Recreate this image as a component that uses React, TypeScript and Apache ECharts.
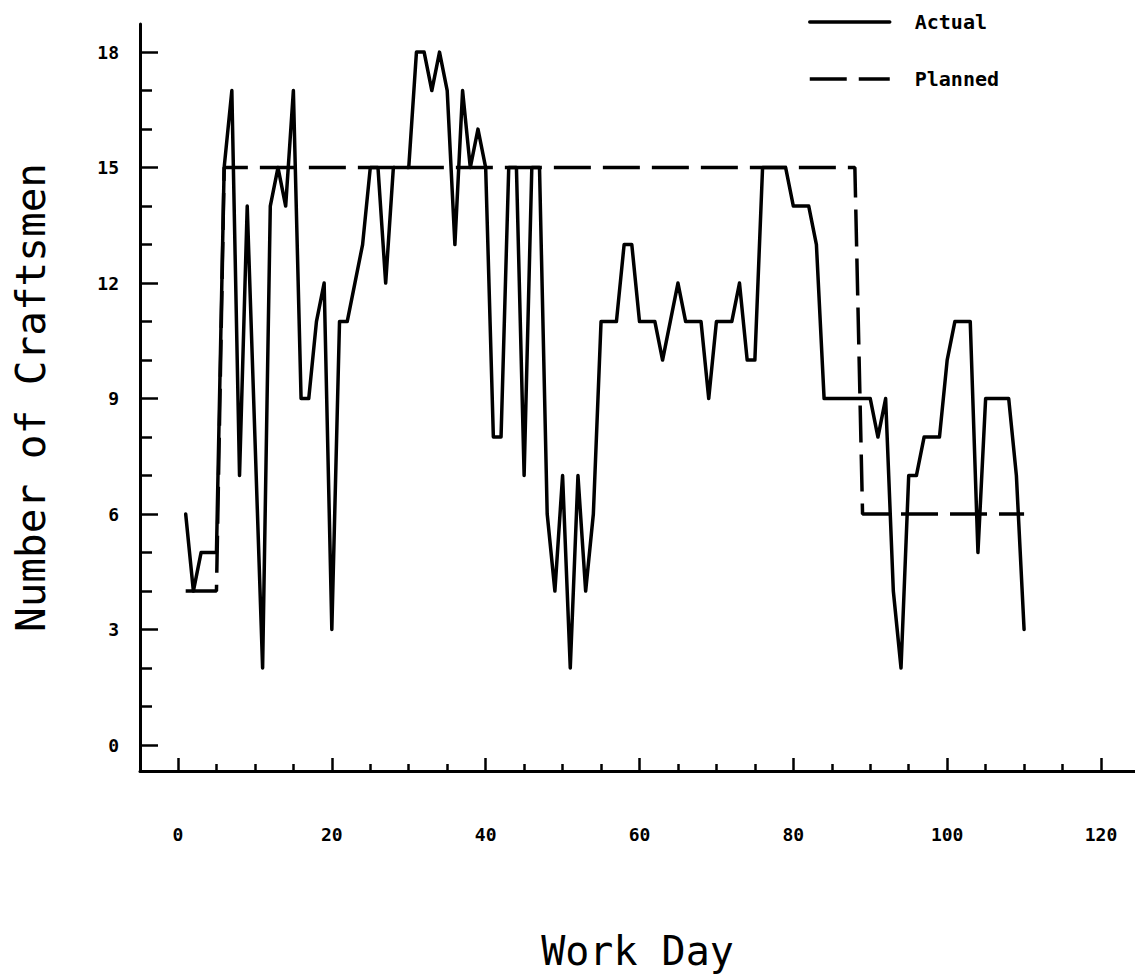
import React, { useEffect, useRef } from "react";
import * as echarts from "echarts";

// Work days (x) and the actual crew size
const days = [
  1, 2, 3, 4, 5, 6, 7, 8, 9, 10, 11, 12, 13, 14, 15, 16, 17, 18, 19, 20,
  21, 22, 23, 24, 25, 26, 27, 28, 29, 30, 31, 32, 33, 34, 35, 36, 37, 38, 39, 40,
  41, 42, 43, 44, 45, 46, 47, 48, 49, 50, 51, 52, 53, 54, 55, 56, 57, 58, 59, 60,
  61, 62, 63, 64, 65, 66, 67, 68, 69, 70, 71, 72, 73, 74, 75, 76, 77, 78, 79, 80,
  81, 82, 83, 84, 85, 86, 87, 88, 89, 90, 91, 92, 93, 94, 95, 96, 97, 98, 99, 100,
  101, 102, 103, 104, 105, 106, 107, 108, 109, 110,
];
const actual = [
  6, 4, 5, 5, 5, 15, 17, 7, 14, 8, 2, 14, 15, 14, 17, 9, 9, 11, 12, 3,
  11, 11, 12, 13, 15, 15, 12, 15, 15, 15, 18, 18, 17, 18, 17, 13, 17, 15, 16, 15,
  8, 8, 15, 15, 7, 15, 15, 6, 4, 7, 2, 7, 4, 6, 11, 11, 11, 13, 13, 11,
  11, 11, 10, 11, 12, 11, 11, 11, 9, 11, 11, 11, 12, 10, 10, 15, 15, 15, 15, 14,
  14, 14, 13, 9, 9, 9, 9, 9, 9, 9, 8, 9, 4, 2, 7, 7, 8, 8, 8, 10,
  11, 11, 11, 5, 9, 9, 9, 9, 7, 3,
];

// Planned crew size (break points)
const plannedDays = [1, 5, 6, 88, 89, 110];
const planned = [4, 4, 15, 15, 6, 6];

// Tick values
const xMajorTicks = [0, 20, 40, 60, 80, 100, 120];
const xMinorTicks = [5, 10, 15, 25, 30, 35, 45, 50, 55, 65, 70, 75, 85, 90, 95, 105, 110, 115];
const yMajorTicks = [0, 3, 6, 9, 12, 15, 18];
const yMinorTicks = [1, 2, 4, 5, 7, 8, 10, 11, 13, 14, 16, 17];

const X_MIN = -4.94;
const X_MAX = 124.42;
const Y_MIN = -0.675;
const Y_MAX = 18.73;

const MONO = "'DejaVu Sans Mono', monospace";

export default function App() {
  const ref = useRef<HTMLDivElement>(null);

  useEffect(() => {
    if (!ref.current) return;
    const chart = echarts.init(ref.current, undefined, { renderer: "svg" });

    const axisCommon = {
      type: "value" as const,
      splitLine: { show: false },
    };

    const option: any = {
      animation: false,
      backgroundColor: "#ffffff",
      grid: { left: 140, right: 0, top: 24, bottom: 208, containLabel: false },
      legend: {
        orient: "vertical",
        left: 808,
        top: 12,
        padding: 0,
        itemWidth: 80,
        itemHeight: 14,
        itemGap: 37,
        itemStyle: { opacity: 0 },
        lineStyle: { width: 3.5, color: "#000" },
        textStyle: {
          fontFamily: MONO,
          fontWeight: "bold",
          fontSize: 20,
          color: "#000",
          padding: [0, 0, 0, 20],
        },
        data: [{ name: "Actual" }, { name: "Planned" }],
      },
      xAxis: [
        {
          ...axisCommon,
          min: X_MIN,
          max: X_MAX,
          position: "bottom",
          name: "Work Day",
          nameLocation: "middle",
          nameGap: 160,
          nameTextStyle: { fontFamily: MONO, fontSize: 40, color: "#000" },
          axisLine: { show: true, onZero: false, lineStyle: { color: "#000", width: 3 } },
          axisTick: {
            show: true,
            inside: true,
            length: 13,
            customValues: xMajorTicks,
            lineStyle: { color: "#000", width: 2.5 },
          },
          axisLabel: {
            show: true,
            customValues: xMajorTicks,
            margin: 54,
            fontFamily: MONO,
            fontWeight: "bold",
            fontSize: 18,
            color: "#000",
          },
        },
        {
          ...axisCommon,
          min: X_MIN,
          max: X_MAX,
          position: "bottom",
          axisLine: { show: false, onZero: false },
          axisTick: {
            show: true,
            inside: true,
            length: 7,
            customValues: xMinorTicks,
            lineStyle: { color: "#000", width: 2.5 },
          },
          axisLabel: { show: false },
        },
      ],
      yAxis: [
        {
          ...axisCommon,
          min: Y_MIN,
          max: Y_MAX,
          position: "left",
          name: "Number of Craftsmen",
          nameLocation: "middle",
          nameRotate: 90,
          nameGap: 89,
          nameTextStyle: { fontFamily: MONO, fontSize: 41, color: "#000" },
          axisLine: { show: true, onZero: false, lineStyle: { color: "#000", width: 3 } },
          axisTick: {
            show: true,
            inside: true,
            length: 18,
            customValues: yMajorTicks,
            lineStyle: { color: "#000", width: 2.5 },
          },
          axisLabel: {
            show: true,
            customValues: yMajorTicks,
            margin: 21,
            fontFamily: MONO,
            fontWeight: "bold",
            fontSize: 18,
            color: "#000",
          },
        },
        {
          ...axisCommon,
          min: Y_MIN,
          max: Y_MAX,
          position: "left",
          axisLine: { show: false, onZero: false },
          axisTick: {
            show: true,
            inside: true,
            length: 12,
            customValues: yMinorTicks,
            lineStyle: { color: "#000", width: 2.5 },
          },
          axisLabel: { show: false },
        },
      ],
      series: [
        {
          name: "Actual",
          type: "line",
          xAxisIndex: 0,
          yAxisIndex: 0,
          symbol: "none",
          showSymbol: false,
          data: days.map((d, i) => [d, actual[i]]),
          lineStyle: { color: "#000", width: 3.5, join: "round", cap: "round" },
          itemStyle: { color: "#000" },
        },
        {
          name: "Planned",
          type: "line",
          xAxisIndex: 0,
          yAxisIndex: 0,
          symbol: "none",
          showSymbol: false,
          data: plannedDays.map((d, i) => [d, planned[i]]),
          lineStyle: { color: "#000", width: 3.5, type: [37, 12] },
          itemStyle: { color: "#000" },
        },
      ],
    };

    chart.setOption(option);
    return () => chart.dispose();
  }, []);

  return (
    <div
      ref={ref}
      style={{ position: "absolute", left: 0, top: 0, width: 1135, height: 979, background: "#fff" }}
    />
  );
}
